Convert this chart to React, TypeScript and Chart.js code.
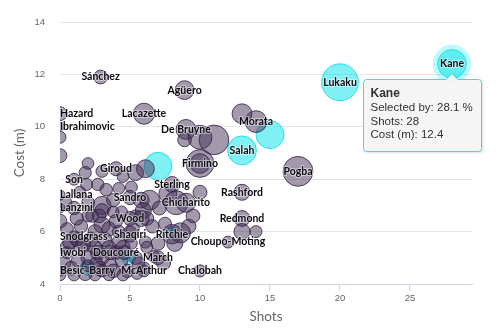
import React, { useEffect, useRef } from "react";
import { Chart, registerables } from "chart.js";

Chart.register(...registerables);

// ---- Data ----
const xTicks = [0, 5, 10, 15, 20, 25];
const yTicks = [4, 6, 8, 10, 12, 14];

// Regular players (purple bubbles)
const playerNames = [
  "Pogba", "Morata", "", "Agüero", "Sánchez", "Hazard", "Ibrahimovic", "", "",
  "Lacazette", "De Bruyne", "", "", "", "Firmino", "", "Giroud", "Son", "", "", "", "", "", "",
  "Lallana", "", "", "", "", "", "Sandro", "Lanzini", "", "", "", "", "", "", "", "",
  "Wood", "", "Snodgrass", "Shaqiri", "", "", "", "", "", "", "",
  "Iwobi", "", "", "Doucouré", "", "March", "Besic", "Barry", "McArthur", "Chalobah",
  "", "", "", "", "", "",
  "Sterling", "Chicharito", "", "", "", "", "", "", "Ritchie", "", "", "", "", "", "", "",
  "Rashford", "Redmond", "", "", "Choupo-Moting",
  "", "", "", "", "", "", "", "", "", "", "", "", "", "", "", "", "", "", "", "", "", "", "", "", "", "", "",
  "", "", "", "", "", "", "", "", "", "", "", "", "", "", "",
];
const playerShots = [
  17, 14, 13, 8.9, 2.9, 0, 0, 0, 0,
  6, 9, 8.9, 10, 11, 10, 10, 4, 1, 2, 1.8, 3, 4.5, 5.4, 6.1,
  0, 1.9, 2.7, 4.2, 5.1, 5.8, 5, 0, 3, 3, 4.4, 5.4, 0, 2, 3, 3.8,
  5, 5.8, 1, 5, 5.1, 6.1, 0.5, 1.5, 2.5, 3.5, 4.5,
  0.5, 2, 3, 4, 2, 7, 0, 3, 6, 10,
  0, 1, 2.5, 3.5, 4.5, 5.5,
  8, 9, 7.7, 10, 6.4, 8.3, 5.95, 8.6, 8, 7, 8.2, 6.2, 7.4, 6.7, 6.2, 7.1,
  13, 13, 13, 14, 12,
  0.5, 1.5, 2.5, 3.5, 4.2, 1, 2, 3.8, 1.2, 2.2, 3.2, 4.2, 0.3, 1.3, 2.6, 3.6, 4.4, 5.4, 5.6, 2.3, 4, 1.4, 3.3, 6.6, 7.5, 9.2, 9.5,
  0.8, 1.8, 2.8, 3.8, 4.8, 0.7, 1.7, 2.7, 3.6, 4.6, 1.2, 2.8, 0.4, 5.2, 6,
];
const playerCost = [
  8.3, 10.2, 10.5, 11.4, 11.9, 10.5, 10.0, 9.6, 8.9,
  10.5, 9.9, 9.5, 9.6, 9.5, 8.6, 8.6, 8.4, 8.0, 8.6, 8.25, 8.3, 8.1, 8.25, 8.4,
  7.4, 7.8, 7.8, 7.65, 7.7, 7.2, 7.3, 6.9, 7.0, 6.8, 6.75, 6.6, 6.4, 6.6, 6.25, 6.75,
  6.5, 6.5, 5.8, 5.9, 5.55, 5.6, 5.4, 5.4, 5.4, 5.4, 5.4,
  5.2, 5.0, 5.0, 5.2, 4.7, 5.0, 4.5, 4.5, 4.5, 4.5,
  4.35, 4.35, 4.35, 4.35, 4.35, 4.4,
  7.8, 7.1, 7.45, 7.5, 7.2, 7.1, 6.8, 5.95, 5.9, 5.55, 5.55, 5.4, 4.8, 5.05, 6.5, 6.9,
  7.5, 6.5, 6.0, 6.0, 5.6,
  6.1, 6.2, 6.0, 6.1, 6.0, 6.9, 7.1, 7.2, 5.7, 5.7, 5.7, 5.6, 4.8, 4.9, 4.8, 4.7, 4.9, 5.0, 4.8, 6.6, 6.4, 7.5, 7.6, 6.2, 6.3, 6.2, 6.6,
  4.6, 4.4, 4.6, 4.5, 4.5, 5.6, 5.5, 5.2, 5.2, 5.2, 6.5, 6.6, 7.1, 6.1, 4.6,
];
const playerSelected = [
  30.5, 16.2, 13.4, 12.1, 6.5, 6.8, 2.3, 4.9, 6.6,
  15.2, 13.5, 6.5, 19.6, 30.2, 26.5, 13.2, 6.7, 4.8, 4.7, 5.1, 5.0, 4.6, 8.6, 11.0,
  3.5, 4.9, 5.2, 4.7, 4.9, 8.5, 6.9, 3.3, 11.2, 6.8, 4.8, 5.0, 6.6, 4.9, 8.9, 4.6,
  6.8, 8.7, 4.9, 8.8, 4.8, 5.0, 6.7, 6.6, 6.9, 6.5, 6.7,
  4.9, 6.8, 6.7, 6.2, 4.8, 6.5, 3.6, 5.0, 4.9, 5.1,
  4.7, 5.0, 4.9, 4.8, 5.1, 4.7,
  8.6, 12.5, 11.0, 6.7, 13.5, 19.5, 8.8, 13.8, 13.0, 6.6, 8.7, 4.9, 6.8, 4.9, 6.6, 6.7,
  8.8, 8.6, 8.9, 4.9, 4.9,
  5.5, 6.0, 6.5, 7.0, 5.5, 6.2, 5.8, 6.1, 6.4, 7.2, 6.8, 6.5, 6.0, 6.3, 5.9, 6.4, 5.7, 6.0, 5.5, 5.6, 6.2, 5.0, 5.4, 6.0, 5.8, 7.0, 6.5,
  6.5, 6.8, 7.0, 6.4, 6.0, 7.0, 6.6, 7.2, 6.9, 6.5, 6.0, 6.3, 5.5, 6.0, 5.5,
];

// Highlighted players (cyan bubbles)
const pickNames = ["", "", "Salah", "Lukaku", "Kane", "", "", ""];
const pickShots = [15, 7, 13, 20, 28, 8, 4.9, 1.9];
const pickCost = [9.7, 8.5, 9.1, 11.7, 12.4, 6.0, 5.0, 4.6];
const pickSelected = [26.8, 26.4, 28.6, 46.5, 28.1, 3.2, 6.6, 6.8];

const tooltipName = "Kane";

// ---- helpers ----
const radiusFor = (sel: number) => Math.max(4, 2.7 * Math.sqrt(sel));
const toPoints = (xs: number[], ys: number[], ss: number[]) =>
  xs.map((x, i) => ({ x, y: ys[i], r: radiusFor(ss[i]) }));

const CYAN_FILL = "rgba(0,228,236,0.5)";
const CYAN_LINE = "rgba(0,215,225,0.75)";

const labelPlugin = {
  id: "bubbleLabels",
  afterDatasetsDraw(chart: any) {
    const ctx = chart.ctx;
    const area = chart.chartArea;
    const ti = pickNames.indexOf(tooltipName);
    if (ti >= 0) {
      const el = chart.getDatasetMeta(1).data[ti];
      ctx.save();
      ctx.beginPath();
      ctx.arc(el.x, el.y, radiusFor(pickSelected[ti]) + 5, 0, Math.PI * 2);
      ctx.fillStyle = "rgba(0,228,236,0.25)";
      ctx.fill();
      ctx.restore();
    }
    ctx.save();
    ctx.font = "bold 10.5px Lato";
    ctx.textBaseline = "middle";
    ctx.textAlign = "left";
    ctx.lineJoin = "round";
    const groups: [number, string[]][] = [
      [0, playerNames],
      [1, pickNames],
    ];
    for (const [di, names] of groups) {
      const meta = chart.getDatasetMeta(di);
      names.forEach((n, i) => {
        if (!n) return;
        const el = meta.data[i];
        const w = ctx.measureText(n).width;
        let x = el.x - w / 2;
        x = Math.max(area.left, Math.min(area.right - w, x));
        ctx.lineWidth = 2;
        ctx.strokeStyle = "rgba(255,255,255,0.5)";
        ctx.strokeText(n, x, el.y);
        ctx.fillStyle = "#0d0a10";
        ctx.fillText(n, x, el.y);
      });
    }
    ctx.restore();
  },
};

const tooltipPlugin = {
  id: "fixedTooltip",
  afterDraw(chart: any) {
    const ti = pickNames.indexOf(tooltipName);
    if (ti < 0) return;
    const el = chart.getDatasetMeta(1).data[ti];
    const ctx = chart.ctx;
    const bx = Math.round(el.x - 89) + 0.5;
    const by = Math.round(el.y + 15) + 0.5;
    const bw = 118;
    const bh = 72;
    const rr = 3;
    const cx = el.x;
    ctx.save();
    ctx.beginPath();
    ctx.moveTo(bx + rr, by);
    ctx.lineTo(cx - 6, by);
    ctx.lineTo(cx, by - 6);
    ctx.lineTo(cx + 6, by);
    ctx.lineTo(bx + bw - rr, by);
    ctx.arcTo(bx + bw, by, bx + bw, by + rr, rr);
    ctx.lineTo(bx + bw, by + bh - rr);
    ctx.arcTo(bx + bw, by + bh, bx + bw - rr, by + bh, rr);
    ctx.lineTo(bx + rr, by + bh);
    ctx.arcTo(bx, by + bh, bx, by + bh - rr, rr);
    ctx.lineTo(bx, by + rr);
    ctx.arcTo(bx, by, bx + rr, by, rr);
    ctx.closePath();
    ctx.shadowColor = "rgba(0,0,0,0.18)";
    ctx.shadowOffsetX = 1;
    ctx.shadowOffsetY = 1;
    ctx.shadowBlur = 3;
    ctx.fillStyle = "rgba(247,247,247,0.95)";
    ctx.fill();
    ctx.shadowColor = "transparent";
    ctx.lineWidth = 1;
    ctx.strokeStyle = "rgba(40,220,228,0.9)";
    ctx.stroke();

    ctx.fillStyle = "#333";
    ctx.textBaseline = "middle";
    ctx.textAlign = "left";
    const tx = bx + 7;
    ctx.font = "bold 12px 'Liberation Sans'";
    ctx.fillText(pickNames[ti], tx, by + 14);
    ctx.font = "11.5px 'Liberation Sans'";
    ctx.fillText(`Selected by: ${pickSelected[ti]} %`, tx, by + 28.5);
    ctx.fillText(`Shots: ${pickShots[ti]}`, tx, by + 42);
    ctx.fillText(`Cost (m): ${pickCost[ti]}`, tx, by + 55.5);
    ctx.restore();
  },
};

export default function App() {
  const canvasRef = useRef<HTMLCanvasElement | null>(null);

  useEffect(() => {
    if (!canvasRef.current) return;
    const chart = new Chart(canvasRef.current, {
      type: "bubble",
      data: {
        datasets: [
          {
            label: "Players",
            data: toPoints(playerShots, playerCost, playerSelected),
            backgroundColor: "rgba(62,42,84,0.48)",
            borderColor: "rgba(48,30,66,0.8)",
            borderWidth: 1,
            clip: 0,
          },
          {
            label: "Picks",
            data: toPoints(pickShots, pickCost, pickSelected),
            backgroundColor: CYAN_FILL,
            borderColor: CYAN_LINE,
            borderWidth: 1,
            clip: 0,
          },
        ],
      },
      options: {
        responsive: true,
        maintainAspectRatio: false,
        animation: false,
        events: [],
        layout: { padding: { top: 22, right: 28, left: 0, bottom: 0 } },
        plugins: {
          legend: { display: false },
          tooltip: { enabled: false },
        },
        scales: {
          x: {
            type: "linear",
            min: 0,
            max: 29.43,
            afterBuildTicks: (s: any) => {
              s.ticks = xTicks.map((v) => ({ value: v }));
            },
            afterFit: (s: any) => {
              s.height = 51;
            },
            grid: {
              drawOnChartArea: false,
              drawTicks: true,
              tickLength: 7,
              color: "#ccd6eb",
            },
            border: { display: true, color: "#ccd6eb", width: 1 },
            ticks: {
              color: "#666",
              font: { family: "'Liberation Sans'", size: 9.5 },
              padding: 2,
              maxRotation: 0,
            },
            title: {
              display: true,
              text: "Shots",
              color: "#666",
              font: { family: "Lato", size: 13.5 },
              padding: { top: 0, bottom: 10.6 },
            },
          },
          y: {
            type: "linear",
            min: 4,
            max: 14,
            afterBuildTicks: (s: any) => {
              s.ticks = yTicks.map((v) => ({ value: v }));
            },
            afterFit: (s: any) => {
              s.width = 60;
            },
            grid: { color: "#e6e6e6", drawTicks: false, tickLength: 0 },
            border: { display: false },
            ticks: {
              color: "#666",
              font: { family: "'Liberation Sans'", size: 9.5 },
              padding: 15,
            },
            title: {
              display: true,
              text: "Cost (m)",
              color: "#666",
              font: { family: "Lato", size: 13.5 },
              padding: { top: 11.6, bottom: 0 },
            },
          },
        },
      },
      plugins: [labelPlugin, tooltipPlugin],
    } as any);
    return () => chart.destroy();
  }, []);

  return (
    <div style={{ position: "fixed", left: 0, top: 0, width: 500, height: 335, background: "#fff" }}>
      <canvas ref={canvasRef} />
    </div>
  );
}
